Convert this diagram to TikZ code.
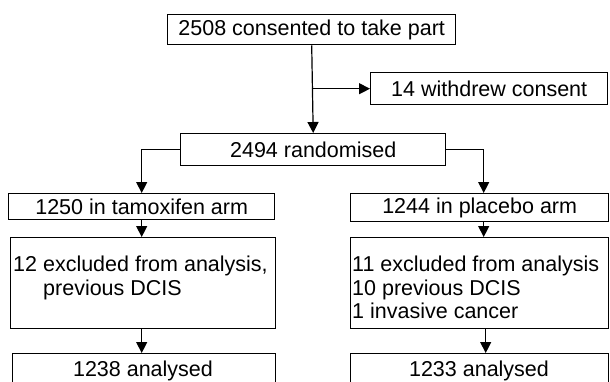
\documentclass[tikz,border=0pt]{standalone}
\usepackage{fontspec}
\setmainfont{Liberation Sans}
\usetikzlibrary{arrows.meta,positioning}
\begin{document}
\begin{tikzpicture}[x=1pt,y=-1pt,
  box/.style={draw,line width=1.4pt,inner sep=0pt,anchor=north west},
  txt/.style={inner sep=0pt,align=left,anchor=north west},
  arr/.style={line width=1.2pt,-{Triangle[length=11pt,width=11pt]}},
  font=\fontsize{21.5}{23.5}\selectfont]
\useasboundingbox (0,0) rectangle (610,381);
\clip (0,0) rectangle (610,381);
% boxes
\node[box,minimum width=288pt,minimum height=30pt] (top) at (167,14) {2508 consented to take part};
\node[box,minimum width=237pt,minimum height=32pt] (wd) at (370,72) {14 withdrew consent};
\node[box,minimum width=265pt,minimum height=32pt] (rand) at (180,133) {2494 randomised};
\node[box,minimum width=266pt,minimum height=26pt] (tam) at (8,193) {1250 in tamoxifen arm};
\node[box,minimum width=258pt,minimum height=28pt] (plc) at (350,193) {1244 in placebo arm};
\node[box,minimum width=265pt,minimum height=91pt] (exl) at (10,237) {};
\node[box,minimum width=258pt,minimum height=91pt] (exr) at (350,237) {};
\node[txt] (exltxt) at (13,256) {12 excluded from analysis,\\\hspace*{30pt}previous DCIS};
\node[txt] (exrtxt) at (352,256) {11 excluded from analysis\\10 previous DCIS\\1 invasive cancer};
\node[box,minimum width=263pt,minimum height=50pt] (anl) at (12,353) {};
\node[box,minimum width=258pt,minimum height=50pt] (anr) at (350,353) {};
\node[inner sep=0pt,anchor=base] (anltxt) at (143,376) {1238 analysed};
\node[inner sep=0pt,anchor=base] (anrtxt) at (479,376) {1233 analysed};
\coordinate (pc) at ([xshift=4pt]plc.north);
% connectors
\draw[arr] (top.south) -- (rand.north);
\draw[arr] (top.south |- wd.west) -- (wd.west);
\draw[arr] (rand.west) -| (tam.north);
\draw[arr] (rand.east) -| (pc);
\draw[arr] (tam.south) -- (exl.north -| tam.south);
\draw[arr] (plc.south -| pc) -- (exr.north -| pc);
\draw[arr] (exl.south -| tam.south) -- (anl.north -| tam.south);
\draw[arr] ([xshift=6pt]exr.south) -- ([xshift=6pt]anr.north);
\end{tikzpicture}
\end{document}
